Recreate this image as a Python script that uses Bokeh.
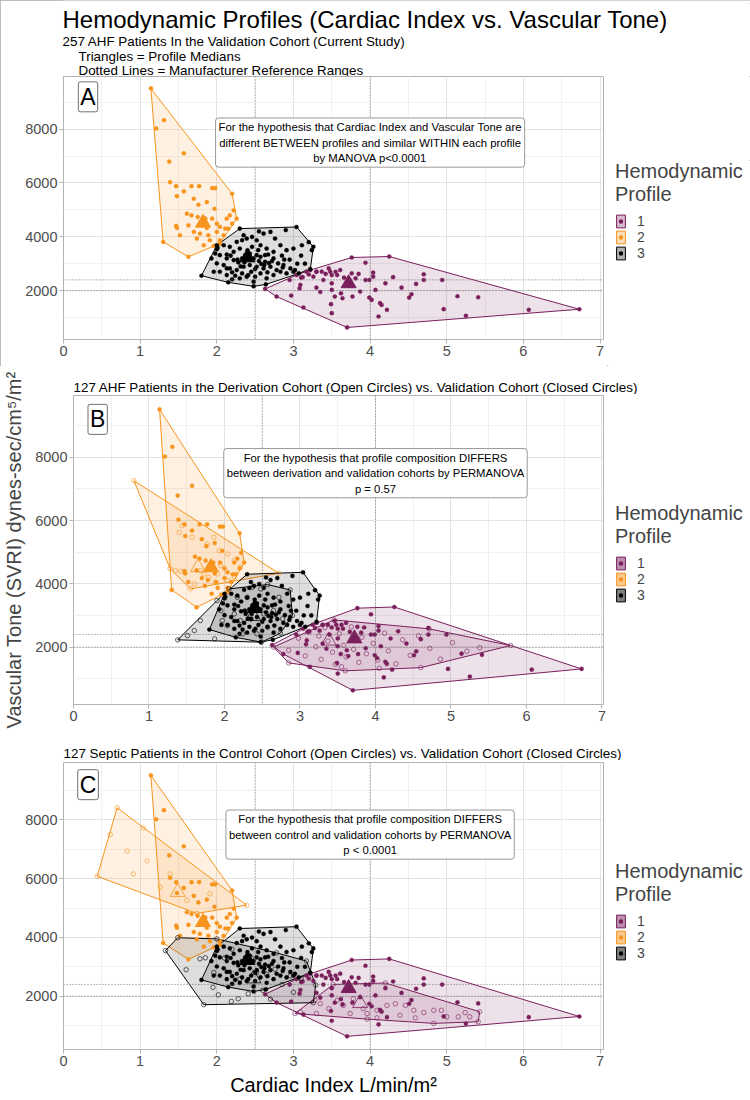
from bokeh.plotting import figure
from bokeh.models import Range1d, FixedTicker, Span, Label, Legend, LegendItem, Title
from bokeh.layouts import column, row
from bokeh.embed import file_html
from bokeh.resources import INLINE

FONT = "Liberation Sans"
PROFILE_LABELS = ["1", "2", "3"]
PROFILE_COLORS = ["#7A1F5C", "#F7941D", "#000000"]
NAN = float("nan")

# ---------------- validation cohort (closed circles), (CI, SVRI) ----------------
val_p1 = [(2.63, 2063), (3.76, 3231), (4.25, 3268), (6.73, 1309), (3.70, 632),
          (2.95, 2395), (3.04, 2580), (3.09, 2211), (3.08, 2087), (3.17, 2703), (3.22, 2765),
          (3.30, 2703), (3.37, 2703), (3.46, 2827), (3.48, 2703), (3.50, 2580), (3.61, 2765),
          (3.50, 2272), (3.50, 2026), (3.54, 1779), (3.49, 1496), (3.50, 1163), (3.64, 1718),
          (3.77, 1779), (3.76, 2642), (3.81, 2457), (3.94, 3036), (3.94, 2395), (3.99, 2395),
          (4.04, 2666), (4.04, 2519), (3.99, 1742), (4.07, 2026), (4.02, 1656), (4.13, 1533),
          (4.15, 1471), (4.22, 1287), (4.11, 1040), (4.20, 2272), (4.41, 2112), (4.51, 1742),
          (4.54, 1866), (4.70, 2605), (4.70, 2395), (4.94, 2395), (4.96, 1311), (5.14, 1792),
          (5.25, 1065), (5.41, 1755), (6.07, 1287), (2.78, 1779), (3.13, 1373), (3.30, 2112),
          (3.39, 2395), (2.97, 1816), (3.26, 2519), (3.57, 2580), (3.87, 1964), (3.74, 2334),
          (3.10, 2480), (3.12, 2500), (3.20, 2600), (3.30, 2700), (3.42, 2620), (3.55, 2700),
          (3.66, 2480), (3.85, 2620), (4.30, 2500), (4.60, 2250), (3.35, 1950), (3.62, 1900)]
val_p2 = [(1.14, 9515), (1.31, 8331), (1.21, 8023), (1.57, 7100), (1.38, 6792), (1.39, 6028),
          (1.47, 5881), (1.57, 5684), (1.67, 5881), (1.77, 5881), (1.94, 5807), (1.98, 5807),
          (1.48, 5511), (1.70, 5413), (1.76, 5191), (1.87, 5290), (1.97, 5043), (2.20, 5598),
          (2.22, 4982), (2.17, 4797), (1.61, 4858), (1.67, 4797), (1.75, 4735), (1.85, 4673),
          (1.94, 4673), (2.00, 4488), (2.13, 4673), (1.47, 4403), (1.63, 4427), (1.87, 4328),
          (2.04, 4366), (2.11, 4304), (2.26, 4673), (2.20, 4488), (1.70, 4181), (1.78, 4119),
          (1.89, 4057), (2.00, 4181), (2.09, 4057), (2.15, 4300), (1.52, 4057), (1.74, 3934),
          (1.91, 3872), (2.04, 3872), (1.83, 3687), (1.96, 3662), (1.63, 3256), (1.30, 3810),
          (1.48, 4330), (2.04, 3749)]
val_p3 = [(1.80, 2554), (2.00, 3687), (2.30, 4304), (3.04, 4365), (3.20, 3800), (3.26, 3626),
          (3.22, 2802), (3.07, 2640), (2.64, 2230), (2.48, 2160), (2.15, 2308),
          (2.01, 3589), (2.09, 3687), (1.98, 3380), (2.04, 3318), (2.13, 3343), (2.22, 3441),
          (2.30, 3564), (2.35, 4057), (2.33, 3872), (2.39, 3934), (2.46, 3995), (2.52, 3872),
          (2.57, 3687), (2.61, 4119), (2.70, 4181), (2.76, 3934), (2.83, 3687), (2.91, 3503),
          (3.00, 3564), (3.11, 3687), (3.24, 3503), (2.13, 3195), (2.22, 3133), (2.33, 3195),
          (2.48, 3195), (2.57, 3256), (2.63, 3318), (2.67, 3343), (2.74, 3195), (2.80, 3010),
          (2.87, 2948), (2.96, 2825), (3.02, 2764), (2.00, 3010), (2.09, 2948), (2.17, 2825),
          (2.26, 2764), (2.35, 2887), (2.43, 2948), (2.52, 2887), (2.61, 2825), (2.70, 2887),
          (2.78, 2764), (1.96, 2702), (2.04, 2702), (2.13, 2579), (2.24, 2554), (2.33, 2640),
          (2.41, 2579), (2.50, 2517), (2.57, 2640), (2.65, 2456), (2.74, 2579), (2.83, 2702),
          (2.91, 2640), (3.00, 2702), (1.93, 3195), (2.00, 3540), (2.17, 3626), (2.26, 3810),
          (2.46, 3626), (2.54, 3503), (2.63, 3072), (2.74, 3441), (2.39, 2517), (2.48, 2333),
          (2.30, 2456), (2.37, 3318), (2.43, 3380), (2.52, 3318), (2.65, 3564), (2.13, 2825),
          (2.28, 3050), (2.45, 2700), (2.58, 2990), (2.20, 2680), (2.68, 3020), (2.40, 3500),
          (2.85, 3300), (2.95, 3150), (3.10, 3300), (3.15, 3000), (2.55, 4200), (2.90, 4250),
          (2.18, 3300), (2.27, 3150), (2.36, 3050), (2.44, 3150), (2.55, 3100), (2.62, 2950),
          (2.72, 3100), (2.88, 3150), (2.31, 2900), (2.50, 2800), (2.66, 2680), (2.86, 2860),
          (2.20, 2420), (3.05, 3000)]

# ---------------- derivation cohort (open circles, panel B) ----------------
der_p1 = [(2.65, 2000), (3.45, 2860), (4.71, 2577), (5.79, 2050), (4.60, 1350), (3.60, 1250),
          (2.85, 1500), (2.85, 1900), (2.98, 2280), (3.07, 1720), (3.12, 2480), (3.21, 2010),
          (3.28, 1610), (3.33, 2620), (3.37, 2190), (3.43, 1840), (3.47, 1460), (3.52, 2420),
          (3.58, 2060), (3.61, 1690), (3.68, 2640), (3.71, 1930), (3.78, 1520), (3.82, 2310),
          (3.88, 1790), (3.97, 2120), (4.03, 1590), (4.12, 2440), (4.17, 1880), (4.27, 1470),
          (4.36, 2230), (4.46, 1740), (4.57, 2360), (4.72, 1960), (4.86, 1620), (5.02, 2140),
          (5.21, 1870), (5.38, 1980), (3.25, 2350), (3.55, 1380), (4.05, 1330)]
der_p2 = [(0.80, 7262), (2.72, 4335), (1.55, 3840), (1.28, 4480), (1.77, 5261), (1.86, 5472),
          (1.93, 5051), (2.04, 4945), (2.13, 4735), (2.21, 4524), (1.35, 4419), (1.42, 4398),
          (1.73, 4314), (1.79, 4208), (1.91, 4314), (2.04, 4103), (2.13, 4208), (1.57, 5472),
          (1.40, 5630), (1.44, 5841), (1.68, 4419), (1.88, 4050), (1.60, 3998), (1.95, 4577)]
der_p3 = [(1.38, 2229), (2.06, 3840), (2.57, 3977), (2.87, 3808), (2.90, 2997), (2.74, 2439),
          (2.49, 2155), (1.87, 2260), (1.95, 3155), (2.04, 2682), (2.13, 3050), (2.21, 2839),
          (2.24, 2418), (2.30, 3576), (2.37, 3893), (2.43, 3261), (2.48, 3840), (2.52, 3050),
          (2.57, 2629), (2.65, 3155), (2.72, 3576), (2.77, 2892), (1.90, 3471), (1.97, 2839),
          (2.17, 3576), (2.43, 2418), (2.35, 2892), (1.68, 2839), (1.60, 2523), (1.51, 2365)]

# ---------------- control cohort (open circles, panel C) ----------------
ctl_p1 = [(3.02, 1409), (3.52, 2400), (4.20, 2448), (5.43, 1470), (5.41, 1130), (4.83, 1074),
          (3.96, 1220), (3.28, 1856), (3.35, 1744), (3.46, 1576), (3.57, 1856), (3.65, 1688),
          (3.78, 1911), (3.91, 1576), (3.96, 1409), (4.09, 1520), (4.22, 1688), (4.33, 1744),
          (4.46, 1688), (4.57, 1520), (4.59, 1263), (4.70, 1442), (4.83, 1520), (4.93, 1520),
          (5.00, 1297), (5.15, 1297), (5.24, 1442), (5.30, 1297), (3.30, 1409), (3.74, 1409),
          (4.09, 1263), (4.39, 1353), (3.09, 1465)]
ctl_p2 = [(0.70, 8416), (0.44, 6081), (1.74, 4819), (2.39, 5098), (0.61, 7500), (0.83, 6942),
          (1.09, 6606), (1.39, 6160), (1.26, 5713), (1.61, 5266), (1.91, 5490), (1.04, 7724),
          (0.91, 6160)]
ctl_p3 = [(1.33, 3553), (1.49, 3990), (2.00, 3950), (2.78, 3475), (3.17, 3196), (3.29, 2380),
          (3.26, 1777), (1.83, 1710), (2.02, 2045), (2.19, 1822), (2.28, 1911), (2.41, 2079),
          (1.78, 3274), (1.85, 3307), (2.52, 2805), (2.65, 2749), (2.76, 2917), (2.96, 2693),
          (3.00, 2135), (2.30, 2582), (1.96, 2805), (2.10, 3300), (2.60, 2200), (2.85, 2400),
          (1.60, 2900), (2.20, 3600), (2.45, 3300), (3.10, 2600), (2.70, 1900), (1.95, 2300)]

# profile medians (triangles), order = profiles 1, 2, 3
val_medians = [(3.72, 2270), (1.82, 4520), (2.40, 3230)]
der_medians = [(3.38, 2200), (1.65, 4520), (2.38, 2980)]
ctl_medians = [(3.87, 1760), (1.49, 5545), (2.48, 2600)]

# manufacturer reference ranges (dotted lines)
ref_ci = [2.5, 4.0]
ref_svri = [2000, 2400]

x_ticks = [0, 1, 2, 3, 4, 5, 6, 7]
x_minor = [0.5, 1.5, 2.5, 3.5, 4.5, 5.5, 6.5]
y_ticks = [2000, 4000, 6000, 8000]
y_minor = [1000, 3000, 5000, 7000, 9000]

TITLE_MAIN = "Hemodynamic Profiles (Cardiac Index vs. Vascular Tone)"
SUB_A = ["257 AHF Patients In the Validation Cohort (Current Study)",
         "Triangles = Profile Medians",
         "Dotted Lines = Manufacturer Reference Ranges"]
SUB_B = "127 AHF Patients in the Derivation Cohort (Open Circles) vs. Validation Cohort (Closed Circles)"
SUB_C = "127 Septic Patients in the Control Cohort (Open Circles) vs. Validation Cohort (Closed Circles)"
ANN_A = ("For the hypothesis that Cardiac Index and Vascular Tone are\n"
         "different BETWEEN profiles and similar WITHIN each profile\n"
         "by MANOVA p<0.0001")
ANN_B = ("For the hypothesis that profile composition DIFFERS\n"
         "between derivation and validation cohorts by PERMANOVA\n"
         "p = 0.57")
ANN_C = ("For the hypothesis that profile composition DIFFERS\n"
         "between control and validation cohorts by PERMANOVA\n"
         "p < 0.0001")
X_LABEL = "Cardiac Index L/min/m\u00b2"
Y_LABEL = "Vascular Tone (SVRI) dynes-sec/cm\u2075/m\u00b2"
LEGEND_TITLE = "Hemodynamic\nProfile"

TOTAL_W = 750
MAIN_W = 607
LEG_W = TOTAL_W - MAIN_W
YLAB_W = 26


def convex_hull(points):
    pts = sorted(set(points))

    def cross(o, a, b):
        return (a[0] - o[0]) * (b[1] - o[1]) - (a[1] - o[1]) * (b[0] - o[0])

    lower = []
    for q in pts:
        while len(lower) >= 2 and cross(lower[-2], lower[-1], q) <= 0:
            lower.pop()
        lower.append(q)
    upper = []
    for q in reversed(pts):
        while len(upper) >= 2 and cross(upper[-2], upper[-1], q) <= 0:
            upper.pop()
        upper.append(q)
    return lower[:-1] + upper[:-1]


def xs(pts):
    return [q[0] for q in pts]


def ys(pts):
    return [q[1] for q in pts]


def blank_fig(width, height, **borders):
    f = figure(width=width, height=height, x_range=Range1d(0, 1), y_range=Range1d(0, 1),
               output_backend="svg", toolbar_location=None, title_location=None,
               x_axis_location=None, y_axis_location=None, min_border=0, **borders)
    f.outline_line_color = None
    f.background_fill_color = "white"
    f.border_fill_color = "white"
    f.grid.visible = False
    return f


def title_fig(width, height, left, titles, bottom=0):
    t = blank_fig(width, height, min_border_left=left, min_border_bottom=bottom)
    for ti in titles:
        t.add_layout(ti, "below")
    return t


def sub_title(text, size="13.4px", offset=0, standoff=0):
    return Title(text=text, text_font=FONT, text_font_size=size, text_font_style="normal",
                 text_color="black", align="left", offset=offset, standoff=standoff)


def legend_col(height, top, frame_h, key_alpha):
    pad = int(round(top + frame_h / 2 - 47.5))
    spacer = blank_fig(LEG_W, pad)
    lf = blank_fig(LEG_W, height - pad, min_border_left=8)
    items = []
    for k in range(3):
        c = PROFILE_COLORS[k]
        rf = lf.patch(x=[NAN], y=[NAN], fill_color=c, fill_alpha=key_alpha, line_color=c,
                      line_width=1)
        rd = lf.scatter(x=[NAN], y=[NAN], marker="circle", size=3, fill_color=c,
                        line_color=None)
        items.append(LegendItem(label=PROFILE_LABELS[k], renderers=[rf, rd]))
    leg = Legend(items=items, title=LEGEND_TITLE, location="top_left",
                 orientation="vertical", spacing=0, padding=0, margin=0,
                 glyph_width=11, glyph_height=16, label_height=15, label_standoff=11,
                 label_text_font=FONT, label_text_font_size="14px",
                 label_text_baseline="middle",
                 title_text_font=FONT, title_text_font_size="20px",
                 title_text_font_style="normal", title_text_line_height=1.0,
                 title_standoff=7, border_line_color=None, background_fill_alpha=0)
    lf.add_layout(leg)
    return column(spacer, lf, spacing=0)


def make_panel(letter, ann_text, other, other_meds, width, height, x_end, borders,
               xlabel=None):
    left, right, top, bottom = borders
    p = figure(width=width, height=height, x_range=Range1d(0, x_end),
               y_range=Range1d(185, 9955), output_backend="svg", toolbar_location=None,
               title_location=None,
               min_border_left=left, min_border_right=right,
               min_border_top=top, min_border_bottom=bottom)
    p.background_fill_color = "white"
    p.border_fill_color = "white"
    p.outline_line_color = "#B3B3B3"
    p.outline_line_width = 1

    p.xaxis.ticker = FixedTicker(ticks=x_ticks, minor_ticks=x_minor)
    p.yaxis.ticker = FixedTicker(ticks=y_ticks, minor_ticks=y_minor)
    for ax in (p.xaxis, p.yaxis):
        ax.axis_line_color = None
        ax.major_tick_line_color = "#B3B3B3"
        ax.major_tick_out = 4
        ax.major_tick_in = 0
        ax.minor_tick_line_color = None
        ax.major_label_text_font = FONT
        ax.major_label_text_font_size = "14.5px"
        ax.major_label_text_color = "#4D4D4D"
        ax.major_label_standoff = 2
        ax.axis_label_text_font = FONT
        ax.axis_label_text_font_size = "20px"
        ax.axis_label_text_font_style = "normal"
        ax.axis_label_text_color = "black"
        ax.axis_label_standoff = 5
    if xlabel:
        p.xaxis.axis_label = xlabel
    for g in (p.xgrid, p.ygrid):
        g.grid_line_color = "#E3E3E3"
        g.grid_line_width = 1
        g.minor_grid_line_color = "#F1F1F1"
        g.minor_grid_line_width = 1

    # convex hulls
    for k in range(3):
        c = PROFILE_COLORS[k]
        h = convex_hull(VAL[k])
        p.patch(xs(h), ys(h), fill_color=c, fill_alpha=0.13, line_color=c, line_width=1)
        if other is not None:
            h = convex_hull(other[k])
            p.patch(xs(h), ys(h), fill_color=c, fill_alpha=0.13, line_color=c, line_width=1)
    # points
    for k in range(3):
        c = PROFILE_COLORS[k]
        if other is not None:
            p.scatter(xs(other[k]), ys(other[k]), marker="circle", size=4.5,
                      fill_color=None, line_color=c, line_width=0.6)
        p.scatter(xs(VAL[k]), ys(VAL[k]), marker="circle", size=4.2,
                  fill_color=c, line_color=c, line_width=0.3)
    # medians
    for k in range(3):
        c = PROFILE_COLORS[k]
        if other_meds is not None:
            p.scatter([other_meds[k][0]], [other_meds[k][1]], marker="triangle", size=15,
                      fill_color=None, line_color=c, line_width=0.8)
        p.scatter([val_medians[k][0]], [val_medians[k][1]], marker="triangle", size=15,
                  fill_color=c, line_color=c)

    for v in ref_ci:
        p.add_layout(Span(location=v, dimension="height", line_color="#555555",
                          line_dash="1 2", line_width=0.8))
    for v in ref_svri:
        p.add_layout(Span(location=v, dimension="width", line_color="#555555",
                          line_dash="1 2", line_width=0.8))

    p.add_layout(Label(x=4.0, y=7500, text=ann_text, text_align="center",
                       text_baseline="middle", text_font=FONT, text_font_size="11.3px",
                       text_line_height=1.3, text_color="black",
                       background_fill_color="white", border_line_color="#555555",
                       border_line_width=0.6, padding=3, border_radius=3))
    p.add_layout(Label(x=0.32, y=9200, text=letter, text_align="center",
                       text_baseline="middle", text_font=FONT, text_font_size="23px",
                       text_color="black", background_fill_color="white",
                       border_line_color="#333333", border_line_width=0.7,
                       padding=2, border_radius=2))
    return p


VAL = [val_p1, val_p2, val_p3]

# ---- panel A (rows 0..366) ----
fA, topA, botA = 263, 0, 27
hA = topA + fA + botA
tA = title_fig(TOTAL_W, 76, 63, [
    sub_title(TITLE_MAIN, size="24px", offset=-1, standoff=0),
    sub_title(SUB_A[0], offset=-1, standoff=-1.5),
    sub_title(SUB_A[1], offset=15, standoff=-3.5),
    sub_title(SUB_A[2], offset=15, standoff=-3.5)])
pA = make_panel("A", ANN_A, None, None, MAIN_W, hA, 7.045, (63, 4, topA, botA))
blockA = column(tA, row(pA, legend_col(hA, topA, fA, 0.3), spacing=0), spacing=0,
                styles={"outline": "1px solid #A8A8A8", "outline-offset": "-1px"})

# ---- panel B (rows 366..730) ----
fB, topB, botB = 309, 1, 26
hB = topB + fB + botB
tB_h = 28
tB = title_fig(TOTAL_W - YLAB_W, tB_h, 47, [sub_title(SUB_B)])
pB = make_panel("B", ANN_B, [der_p1, der_p2, der_p3], der_medians, MAIN_W - YLAB_W, hB, 7.02,
                (47, 4, topB, botB))
yB = blank_fig(YLAB_W, tB_h + hB, min_border_top=3)
yB.add_layout(Title(text=Y_LABEL, text_font=FONT, text_font_size="20px",
                    text_font_style="normal", align="center", standoff=0), "left")
blockB = row(yB, column(tB, row(pB, legend_col(hB, topB, fB, 0.5), spacing=0), spacing=0),
             spacing=0)

# ---- panel C (rows 730..1098) ----
fC, topC, botC = 290, 2, 46
hC = topC + fC + botC
tC = title_fig(TOTAL_W, 30, 63, [sub_title(SUB_C)])
pC = make_panel("C", ANN_C, [ctl_p1, ctl_p2, ctl_p3], ctl_medians, MAIN_W, hC, 7.045,
                (63, 4, topC, botC), xlabel=X_LABEL)
blockC = column(tC, row(pC, legend_col(hC, topC, fC, 0.5), spacing=0), spacing=0)

layout = column(blockA, blockB, blockC, spacing=0)
open("out.html", "w").write(file_html(layout, INLINE))
